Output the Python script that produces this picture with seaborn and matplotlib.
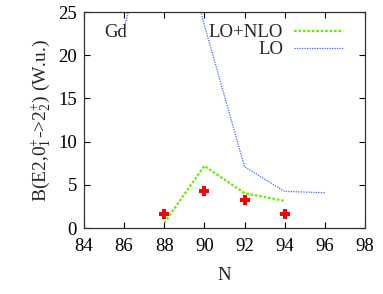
import matplotlib
matplotlib.use("Agg")
import matplotlib.pyplot as plt
import seaborn as sns
import pandas as pd
import numpy as np

N_lo = [86, 88, 90, 92, 94, 96]
B_lo = [23.1, 41.0, 23.5, 7.1, 4.25, 4.1]
N_nlo = [88, 90, 92, 94]
B_nlo = [0.6, 7.2, 4.05, 3.15]
N_exp = [88, 90, 92, 94]
B_exp = [1.6, 4.3, 3.2, 1.6]
E_exp = [0.3, 0.3, 0.3, 0.25]
xticks = [84, 86, 88, 90, 92, 94, 96, 98]
yticks = [0, 5, 10, 15, 20, 25]

sns.set_theme(style="ticks")
plt.rcParams['font.family'] = ['Liberation Serif', 'DejaVu Serif']
plt.rcParams['mathtext.fontset'] = 'custom'
plt.rcParams['mathtext.rm'] = 'Liberation Serif'
plt.rcParams['mathtext.it'] = 'Liberation Serif:italic'

FS = 13.5
fig = plt.figure(figsize=(3.83, 2.94), dpi=100)
ax = fig.add_axes([0.219, 0.224, 0.734, 0.735])

df_nlo = pd.DataFrame({"N": N_nlo, "B": B_nlo})
df_lo = pd.DataFrame({"N": N_lo, "B": B_lo})
sns.lineplot(data=df_nlo, x="N", y="B", ax=ax, color="#66ee00", lw=1.6,
             linestyle=(0, (1.2, 0.8)), label="LO+NLO")
sns.lineplot(data=df_lo, x="N", y="B", ax=ax, color="#4466ff", lw=0.9,
             linestyle=(0, (1, 1)), label="LO")
ax.errorbar(N_exp, B_exp, yerr=E_exp, fmt='P', color='red', ms=6.5,
            mew=0, elinewidth=1.6, capsize=0)

ax.set_xlim(84, 98)
ax.set_ylim(0, 25)
ax.set_xticks(xticks)
ax.set_yticks(yticks)
ax.tick_params(direction='in', top=True, right=True, length=4, width=0.8,
               labelsize=FS, colors='black')
ax.tick_params(axis='x', pad=7)
ax.tick_params(axis='y', pad=5)
for s in ax.spines.values():
    s.set_linewidth(0.9)
    s.set_color('#333333')
ax.set_xlabel("N", fontsize=FS, labelpad=9)
ax.set_ylabel(r"B(E2,0$^{+}_{1}$->2$^{+}_{2}$) (W.u.)", fontsize=FS + 0.5, labelpad=4)
ax.text(85.0, 22.6, "Gd", fontsize=FS, va='center', ha='left')

ax.legend(loc='upper right', bbox_to_anchor=(0.965, 1.0), frameon=False,
          markerfirst=False, fontsize=FS, handlelength=2.6, handletextpad=0.6,
          labelspacing=0.0, borderaxespad=0.25)

fig.savefig("out.png", dpi=100)
